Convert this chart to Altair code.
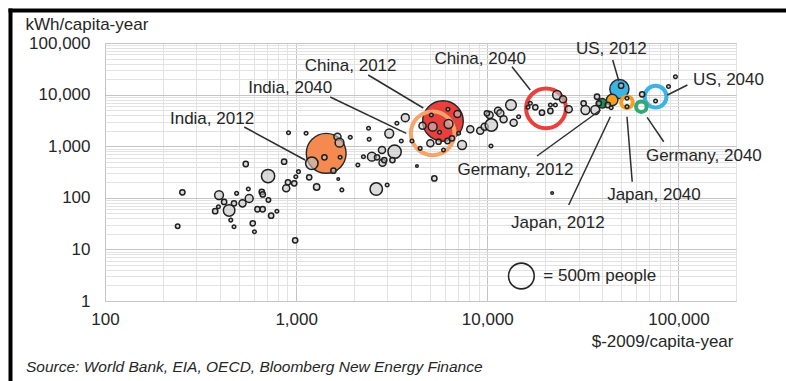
import altair as alt
import pandas as pd

# Countries: GDP per capita ($-2009), electricity use per capita (kWh), population (m)
gdp = [240, 254, 395, 420, 446, 377, 488, 392, 562, 568, 524, 473, 661, 669, 716, 627,
       668, 793, 740, 455, 473, 593, 605, 988, 545, 713, 865, 887, 906, 977, 996, 1170,
       1280, 1028, 912, 1127, 1734, 1660, 2624, 2993, 1208, 1645, 1686, 1406, 1698, 1567,
       1919, 2103, 2409, 2392, 2489, 2650, 2249, 2812, 2831, 3273, 3069, 3365, 3724, 3548,
       4035, 2891, 3189, 5097, 6980, 6266, 5180, 4582, 5626, 6223, 7079, 5035, 5560, 6190,
       6531, 7379, 4454, 5900, 8147, 9183, 9680, 10280, 11380, 10500, 5283, 4285, 13300,
       11700, 12170, 13740, 9953, 14590, 10450, 16330, 17830, 19320, 21380, 21380, 23170,
       24900, 26660, 16790, 22700, 31900, 32600, 36700, 38300, 37500, 42700, 44460, 53800,
       53800, 64570, 75900, 88700, 96400, 21830, 50120]
kwh = [28, 128, 113, 83, 57, 55, 122, 67, 148, 97, 78, 78, 130, 116, 91, 60,
       60, 55, 45, 37, 27.5, 32, 22, 15, 452, 264, 501, 153, 200, 191, 256, 249,
       162, 321, 1827, 1778, 142, 231, 148, 177, 467, 1528, 1169, 610, 610, 335,
       1487, 432, 1360, 2223, 626, 610, 626, 844, 479, 782, 1763, 2780, 3567, 1261,
       1261, 540, 540, 4024, 4207, 2693, 2388, 2497, 1860, 5190, 1778, 1138, 1222, 1261,
       1422, 1055, 910, 844, 2127, 1997, 2388, 4024, 4875, 2576, 237, 413, 6289,
       4341, 3322, 2853, 4341, 3730, 1008, 5675, 5675, 4460, 4811, 6289, 9823,
       8110, 5190, 6781, 6289, 6781, 5030, 5030, 6781, 9105, 6289, 5575, 8479,
       5831, 10140, 7516, 14360, 22220, 124, 14870]
pop = [15, 21, 59, 21, 100, 21, 10, 10, 10, 48, 38, 21, 21, 21, 15, 21,
       21, 10, 21, 10, 10, 21, 10, 21, 21, 134, 21, 38, 21, 21, 10, 21,
       30, 10, 10, 10, 10, 5, 117, 10, 117, 38, 59, 21, 10, 21,
       10, 10, 10, 10, 59, 21, 10, 38, 38, 134, 59, 10, 48, 10,
       10, 21, 21, 10, 38, 59, 59, 38, 10, 10, 10, 38, 21, 21,
       21, 59, 10, 10, 38, 38, 38, 38, 38, 117, 21, 5, 86,
       38, 38, 38, 21, 10, 10, 10, 21, 21, 21, 10, 59,
       38, 38, 10, 10, 21, 59, 59, 21, 21, 21, 10, 10,
       10, 21, 10, 10, 10, 5, 21]

# Highlighted economies, 2012 and 2040
hl_name = ["India", "China", "US", "Germany", "Japan", "India", "China", "US", "Germany", "Japan"]
hl_year = [2012, 2012, 2012, 2012, 2012, 2040, 2040, 2040, 2040, 2040]
hl_gdp = [1436, 5861, 49100, 39900, 45000, 5180, 20280, 75900, 63960, 53800]
hl_kwh = [728, 3079, 12840, 6781, 7858, 1778, 5426, 9105, 5831, 7096]
hl_pop = [1200, 1250, 280, 70, 100, 1450, 1200, 360, 85, 102]
hl_color = ["#F48A50", "#E8403C", "#3AB3E5", "#1E8C5A", "#F2A023",
            "#F6A46C", "#E8403C", "#3AB3E5", "#33A874", "#F2A023"]

# Callout labels and their leader lines
lab_text = ["India, 2012", "India, 2040", "China, 2012", "China, 2040", "US, 2012",
            "US, 2040", "Germany, 2012", "Germany, 2040", "Japan, 2040", "Japan, 2012"]
lab_gdp = [363, 931, 1928, 9183, 44570, 182800, 14030, 135800, 74440, 23390]
lab_kwh = [3366, 13430, 35830, 48980, 78230, 18770, 346, 646, 113, 32.5]
lead_gdp = [535, 1507, 2382, 13460, 45290, 111400, 18200, 83750, 57300, 26660]
lead_kwh = [2356, 8985, 23970, 34730, 46860, 15360, 646, 1222, 205, 72.5]
lead_gdp2 = [1114, 3767, 4624, 16790, 48750, 87500, 39080, 68550, 53800, 44030]
lead_kwh2 = [540, 1778, 5500, 12280, 18350, 9823, 5030, 3631, 3730, 3730]

# Size key
key_gdp = [15070]
key_kwh = [3.05]
key_pop = [500]
key_text_gdp = [19630]
key_text = ["= 500m people"]

FONT = "Liberation Sans"
TXT = "#262626"
FS = 17

x_ticks = [m * 10 ** e for e in range(2, 5) for m in range(1, 10)] + [100000, 200000]
y_ticks = [m * 10 ** e for e in range(0, 5) for m in range(1, 10)] + [100000]

x_axis = alt.Axis(
    values=x_ticks,
    labelExpr="indexof([100, 1000, 10000, 100000], datum.value) >= 0 ? format(datum.value, ',') : ''",
    labelFontSize=FS, labelColor=TXT, labelPadding=10, labelOverlap=False, labelFlush=False,
    ticks=False, domain=False, grid=True,
    gridColor={"condition": {"test": "indexof([100, 1000, 10000, 100000], datum.value) >= 0",
                             "value": "#c4c4c4"}, "value": "#e2e2e2"},
    gridWidth=1,
    title="$-2009/capita-year", titleFontSize=FS, titleFontWeight="normal", titleColor=TXT,
    titleX=628, titleY=45, titleAlign="right", titleBaseline="alphabetic",
)
y_axis = alt.Axis(
    values=y_ticks,
    labelExpr="indexof([1, 10, 100, 1000, 10000, 100000], datum.value) >= 0 ? format(datum.value, ',') : ''",
    labelFontSize=FS, labelColor=TXT, labelPadding=15, labelOverlap=False, labelFlush=False,
    ticks=False, domain=False, grid=True,
    gridColor={"condition": {"test": "indexof([1, 10, 100, 1000, 10000, 100000], datum.value) >= 0",
                             "value": "#c4c4c4"}, "value": "#e2e2e2"},
    gridWidth=1,
    title="kWh/capita-year", titleFontSize=FS, titleFontWeight="normal", titleColor=TXT,
    titleAngle=0, titleX=-80, titleY=-14, titleAlign="left", titleBaseline="alphabetic",
)

X = alt.X("gdp:Q", scale=alt.Scale(type="log", domain=[100, 200000]), axis=x_axis)
Y = alt.Y("kwh:Q", scale=alt.Scale(type="log", domain=[1, 100000]), axis=y_axis)
S = alt.Size("pop:Q", scale=alt.Scale(type="linear", domain=[0, 500], range=[0, 660]), legend=None)

countries = pd.DataFrame({"gdp": gdp, "kwh": kwh, "pop": pop})
hl = pd.DataFrame({"name": hl_name, "year": hl_year, "gdp": hl_gdp, "kwh": hl_kwh,
                   "pop": hl_pop, "color": hl_color})
labels = pd.DataFrame({"label": lab_text, "gdp": lab_gdp, "kwh": lab_kwh})
leaders = pd.DataFrame({"gdp": lead_gdp, "kwh": lead_kwh, "gdp2": lead_gdp2, "kwh2": lead_kwh2})
key = pd.DataFrame({"gdp": key_gdp, "kwh": key_kwh, "pop": key_pop})
key_lab = pd.DataFrame({"gdp": key_text_gdp, "kwh": key_kwh, "label": key_text})
one = pd.DataFrame({"k": [0]})

filled_2012 = alt.Chart(hl).transform_filter("datum.year == 2012").mark_circle(
    stroke="#262626", strokeWidth=1.4, opacity=1, fillOpacity=1
).encode(x=X, y=Y, size=S, fill=alt.Fill("color:N", scale=None))

rings_2040 = alt.Chart(hl).transform_filter("datum.year == 2040").mark_circle(
    filled=False, strokeWidth=4, opacity=1
).encode(x=X, y=Y, size=S, stroke=alt.Stroke("color:N", scale=None))

bubbles = alt.Chart(countries).mark_circle(
    fill="#c4c4c4", fillOpacity=0.6, stroke="#1f1f1f", strokeWidth=1.5, opacity=1
).encode(x=X, y=Y, size=S)

leader_lines = alt.Chart(leaders).mark_rule(color="#2e2e2e", strokeWidth=1.5).encode(
    x=X, y=Y, x2="gdp2:Q", y2="kwh2:Q"
)

label_text = alt.Chart(labels).mark_text(
    font=FONT, fontSize=FS, color=TXT, align="center", baseline="middle"
).encode(x=X, y=Y, text="label:N")

key_circle = alt.Chart(key).mark_circle(
    filled=False, stroke="#262626", strokeWidth=1.6, opacity=1
).encode(x=X, y=Y, size=S)

key_text_mark = alt.Chart(key_lab).mark_text(
    font=FONT, fontSize=FS, color=TXT, align="left", baseline="middle"
).encode(x=X, y=Y, text="label:N")

source = alt.Chart(one).mark_text(
    font=FONT, fontSize=15.5, fontStyle="italic", color=TXT, align="left", baseline="alphabetic"
).encode(x=alt.value(-79), y=alt.value(329),
         text=alt.value("Source: World Bank, EIA, OECD, Bloomberg New Energy Finance"))

# Black frame along the top and left edges
frame_top = alt.Chart(one).mark_rule(color="#000000", strokeWidth=4).encode(
    x=alt.value(-96.5), x2=alt.value(681), y=alt.value(-32.5), y2=alt.value(-32.5)
)
frame_left = alt.Chart(one).mark_rule(color="#000000", strokeWidth=4).encode(
    x=alt.value(-94.5), x2=alt.value(-94.5), y=alt.value(-34.5), y2=alt.value(338)
)

chart = alt.layer(
    filled_2012, rings_2040, bubbles, leader_lines, label_text,
    key_circle, key_text_mark, source, frame_top, frame_left
).properties(
    width=631, height=258,
    autosize=alt.AutoSizeParams(type="none"),
    padding={"left": 105, "top": 43, "right": 50, "bottom": 80},
    background="white",
).configure(font=FONT).configure_view(stroke="#c8c8c8", strokeWidth=1)

chart.save("out.html", embed_options={"renderer": "svg", "actions": False})
